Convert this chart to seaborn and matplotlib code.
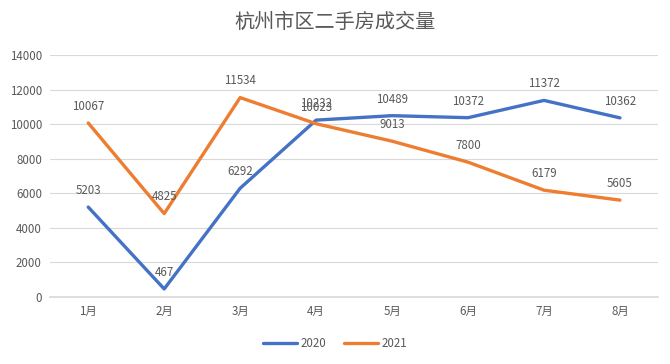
import matplotlib
matplotlib.use("Agg")
import matplotlib.pyplot as plt
import seaborn as sns
import pandas as pd
from matplotlib.lines import Line2D

months = ["1月", "2月", "3月", "4月", "5月", "6月", "7月", "8月"]
v2020 = [5203, 467, 6292, 10232, 10489, 10372, 11372, 10362]
v2021 = [10067, 4825, 11534, 10023, 9013, 7800, 6179, 5605]
series_names = ["2020", "2021"]
y_ticks = [0, 2000, 4000, 6000, 8000, 10000, 12000, 14000]

sns.set_theme(style="white")
plt.rcParams['font.family'] = ['Noto Sans CJK SC', 'DejaVu Sans']

df = pd.DataFrame({
    "month": months * 2,
    "value": v2020 + v2021,
    "series": [series_names[0]] * len(months) + [series_names[1]] * len(months),
})
df["x"] = list(range(len(months))) * 2

colors = {"2020": "#4472C4", "2021": "#ED7D31"}

fig = plt.figure(figsize=(6.7, 3.64), dpi=100)
ax = fig.add_axes([0.075, 0.184, 0.907, 0.665])

sns.lineplot(data=df, x="x", y="value", hue="series", palette=colors,
             linewidth=2.4, ax=ax, legend=False)

txtc = "#595959"
for s in series_names:
    sub = df[df["series"] == s]
    for xv, yv in zip(sub["x"], sub["value"]):
        ax.annotate(str(yv), (xv, yv), xytext=(0, 12), textcoords="offset points",
                    ha="center", va="center", fontsize=8.3, color=txtc)

ax.set_xlim(-0.5, len(months) - 0.5)
ax.set_ylim(0, 14000)
ax.set_yticks(y_ticks)
ax.set_yticklabels([str(t) for t in y_ticks])
ax.set_xticks(range(len(months)))
ax.set_xticklabels(months)
ax.tick_params(axis="both", labelsize=8.3, colors=txtc, length=0, pad=6)
ax.yaxis.grid(True, color="#d9d9d9", linewidth=0.8)
ax.set_axisbelow(True)
for sp in ax.spines.values():
    sp.set_visible(False)
ax.spines["bottom"].set_visible(True)
ax.spines["bottom"].set_color("#d9d9d9")
ax.set_xlabel("")
ax.set_ylabel("")

fig.text(0.5, 0.94, "杭州市区二手房成交量", ha="center", va="center",
         fontsize=14.5, color=txtc)

handles = [Line2D([0], [0], color=colors[s], linewidth=2.4) for s in series_names]
fig.legend(handles, series_names, loc="center", bbox_to_anchor=(0.5, 0.057),
           ncol=2, frameon=False, fontsize=8.3, labelcolor=txtc,
           handlelength=3, columnspacing=1.5, handletextpad=0.3)

fig.savefig("out.png", dpi=100, facecolor="white")
